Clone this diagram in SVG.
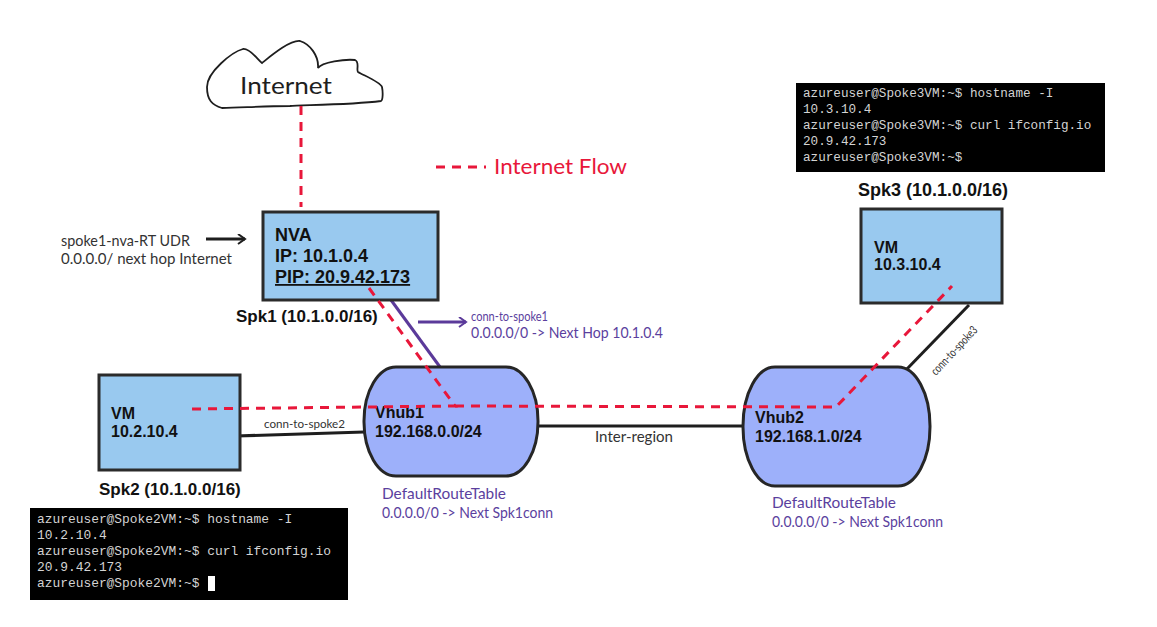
<svg xmlns="http://www.w3.org/2000/svg" width="1157" height="627" viewBox="0 0 1157 627">
<defs>
<marker id="ab" markerWidth="10" markerHeight="12" refX="8" refY="5" orient="auto" markerUnits="userSpaceOnUse"><path d="M1 0L8 5L1 10" fill="none" stroke="#1e1e1e" stroke-width="2"/></marker>
<marker id="ap" markerWidth="10" markerHeight="12" refX="8" refY="5" orient="auto" markerUnits="userSpaceOnUse"><path d="M1 0L8 5L1 10" fill="none" stroke="#5b3a9a" stroke-width="2"/></marker>
</defs>
<style>
.box{fill:#99c9ef;stroke:#2b2b2b;stroke-width:3}
.hub{fill:#9db0fa;stroke:#262626;stroke-width:3}
.b{font:bold 16px "Liberation Sans",Arial,sans-serif;fill:#111}
.b18{font:bold 18px "Liberation Sans",Arial,sans-serif;fill:#111}
.b17{font:bold 17px "Liberation Sans",Arial,sans-serif;fill:#111}
.h{font:15px "Lato",sans-serif;fill:#333}
.p{font:15px "Lato",sans-serif;fill:#5b3f9e}
.s{font:12px "Lato",sans-serif;fill:#333}
.t{font:12.9px "Liberation Mono",monospace;fill:#d4d4d4}
.t3{font:12.65px "Liberation Mono",monospace;fill:#d4d4d4}
.red{fill:none;stroke:#e8173a;stroke-width:3;stroke-dasharray:9 7}
.blk{fill:none;stroke:#1e1e1e;stroke-width:3}
</style>
<rect width="1157" height="627" fill="#fff"/>
<g id="connectors">
<path class="blk" d="M236 436L364 432"/>
<path class="blk" d="M538 426L742 426"/>
<path class="blk" d="M905 371L969 305"/>
<path d="M391 300L440 367" fill="none" stroke="#5b3a9a" stroke-width="3"/>
<path d="M418 322H466" fill="none" stroke="#5b3a9a" stroke-width="3" marker-end="url(#ap)"/>
<path class="blk" d="M206 239H245" marker-end="url(#ab)"/>
</g>
<g id="cloud"><path d="M222 108C212 105 207 100 207 87C207 72 232 52 243 49C250 48 258 60 262 63C272 55 290 40 300 41C310 44 319 56 318 68C322 62 345 59 355 60C360 62 356 70 358 72C365 76 380 82 382 87C383 92 383 100 381 101C350 105 300 105 290 106C260 106 240 108 222 108Z" fill="#fff" stroke="#1e1e1e" stroke-width="1.8"/><text x="240" y="94" font-family="Lato,sans-serif" font-size="24" fill="#1e1e1e" textLength="92" lengthAdjust="spacingAndGlyphs">Internet</text></g>
<g id="spk1"><rect class="box" x="263" y="212" width="175" height="88"/><text class="b18" x="275" y="241">NVA</text><text class="b18" x="275" y="262">IP: 10.1.0.4</text><text class="b18" x="275" y="283" text-decoration="underline">PIP: 20.9.42.173</text><text class="b17" x="236" y="322">Spk1 (10.1.0.0/16)</text></g>
<g id="spk2"><rect class="box" x="99" y="375" width="141" height="95"/><text class="b" x="111" y="419">VM</text><text class="b" x="111" y="437">10.2.10.4</text><text class="b17" x="99" y="495">Spk2 (10.1.0.0/16)</text></g>
<g id="spk3"><rect class="box" x="861" y="209" width="141" height="94"/><text class="b" x="874" y="253">VM</text><text class="b" x="874" y="270">10.3.10.4</text><text class="b18" x="858" y="196">Spk3 (10.1.0.0/16)</text></g>
<g id="vhub1"><rect class="hub" x="364" y="367" width="174" height="109" rx="32" ry="54"/><text class="b" x="375" y="418">Vhub1</text><text class="b" x="375" y="437">192.168.0.0/24</text></g>
<g id="vhub2"><rect class="hub" x="743" y="367" width="187" height="119" rx="32" ry="59"/><text class="b" x="755" y="423">Vhub2</text><text class="b" x="755" y="442">192.168.1.0/24</text></g>
<g id="red-flows">
<path class="red" d="M301 106V207"/>
<path class="red" d="M369 288L455 406L190 409"/>
<path class="red" d="M455 406L836 407L952 286"/>
<path class="red" d="M436 167H486"/>
</g>
<g id="labels">
<text x="494" y="174" font-family="Lato,sans-serif" font-size="21" fill="#e8173a" textLength="133" lengthAdjust="spacingAndGlyphs">Internet Flow</text>
<text class="h" x="61" y="246" textLength="129" lengthAdjust="spacingAndGlyphs">spoke1-nva-RT UDR</text>
<text class="h" x="61" y="264" textLength="171" lengthAdjust="spacingAndGlyphs">0.0.0.0/ next hop Internet</text>
<text class="p" x="471" y="321" font-size="13" style="font-size:13px" textLength="77" lengthAdjust="spacingAndGlyphs">conn-to-spoke1</text>
<text class="p" x="471" y="338" textLength="192" lengthAdjust="spacingAndGlyphs">0.0.0.0/0 -&gt; Next Hop 10.1.0.4</text>
<text class="s" x="264" y="428" textLength="81" lengthAdjust="spacingAndGlyphs">conn-to-spoke2</text>
<text class="s" x="0" y="0" transform="translate(936 376) rotate(-47)" textLength="62" lengthAdjust="spacingAndGlyphs">conn-to-spoke3</text>
<text class="h" x="595" y="442" textLength="78" lengthAdjust="spacingAndGlyphs">Inter-region</text>
<text class="p" x="382" y="499" textLength="124" lengthAdjust="spacingAndGlyphs">DefaultRouteTable</text>
<text class="p" x="382" y="518" textLength="171" lengthAdjust="spacingAndGlyphs">0.0.0.0/0 -&gt; Next Spk1conn</text>
<text class="p" x="772" y="508" textLength="124" lengthAdjust="spacingAndGlyphs">DefaultRouteTable</text>
<text class="p" x="772" y="527" textLength="171" lengthAdjust="spacingAndGlyphs">0.0.0.0/0 -&gt; Next Spk1conn</text>
</g>
<g id="terminal-spoke2"><rect x="30" y="508" width="318" height="92" fill="#000"/>
<text class="t" x="37" y="523">azureuser@Spoke2VM:~$ hostname -I</text><text class="t" x="37" y="539">10.2.10.4</text><text class="t" x="37" y="555">azureuser@Spoke2VM:~$ curl ifconfig.io</text><text class="t" x="37" y="571">20.9.42.173</text><text class="t" x="37" y="587">azureuser@Spoke2VM:~$</text><rect x="208" y="576" width="7" height="15" fill="#fff"/></g>
<g id="terminal-spoke3"><rect x="796" y="83" width="309" height="89" fill="#000"/>
<text class="t3" x="803" y="97">azureuser@Spoke3VM:~$ hostname -I</text><text class="t3" x="803" y="113">10.3.10.4</text><text class="t3" x="803" y="129">azureuser@Spoke3VM:~$ curl ifconfig.io</text><text class="t3" x="803" y="145">20.9.42.173</text><text class="t3" x="803" y="161">azureuser@Spoke3VM:~$</text></g>
</svg>
